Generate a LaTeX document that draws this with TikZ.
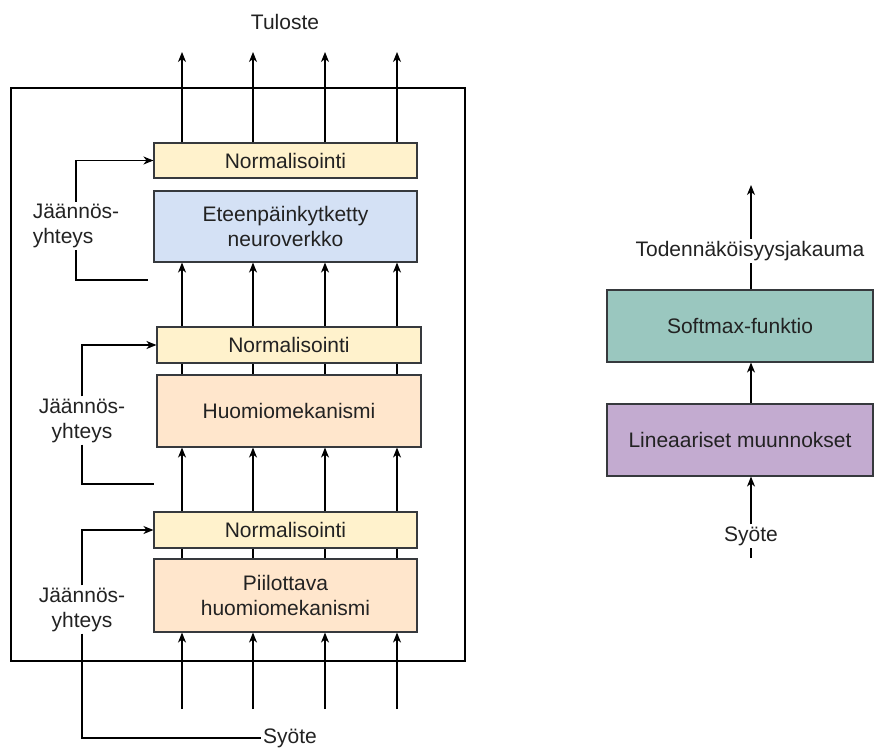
\documentclass[tikz,border=0pt]{standalone}
\usepackage{fontspec}
\setmainfont{Liberation Sans}
\usetikzlibrary{arrows.meta,backgrounds}
\definecolor{cyellow}{HTML}{FFF2CC}
\definecolor{cblue}{HTML}{D4E1F5}
\definecolor{corange}{HTML}{FFE6CC}
\definecolor{cteal}{HTML}{9AC7BF}
\definecolor{cpurple}{HTML}{C3ABD0}
\definecolor{cborder}{HTML}{36393D}
\definecolor{ctext}{HTML}{222222}
\tikzset{
  lbl/.style={font=\fontsize{21}{25}\selectfont, text=ctext, inner sep=2pt},
  box/.style={draw=cborder, line width=1.1pt, font=\fontsize{21}{25}\selectfont, text=ctext, align=center, inner sep=0pt},
  arr/.style={line width=1.1pt, -{Stealth[length=10pt,width=8pt,inset=3pt]}},
  ln/.style={line width=1.1pt},
}
\begin{document}
\begin{tikzpicture}[x=1pt,y=-1pt]
\useasboundingbox (0,0) rectangle (874,749);
% outer frame
\node[draw=black, line width=1.1pt, minimum width=454pt, minimum height=573pt, inner sep=0pt] (outer) at (238,374.5) {};
% left column boxes
\node[box, fill=cyellow, minimum width=263pt, minimum height=35pt] (n1) at (285.5,160.5) {Normalisointi};
\node[box, fill=cblue, minimum width=263pt, minimum height=71pt] (ffn) at (285.5,226.5) {Eteenpäinkytketty\\neuroverkko};
\node[box, fill=cyellow, minimum width=264pt, minimum height=36pt] (n2) at (289,345) {Normalisointi};
\node[box, fill=corange, minimum width=264pt, minimum height=72pt] (att) at (289,411) {Huomiomekanismi};
\node[box, fill=cyellow, minimum width=263pt, minimum height=36pt] (n3) at (285.5,530) {Normalisointi};
\node[box, fill=corange, minimum width=263pt, minimum height=73pt] (mask) at (285.5,595.5) {Piilottava\\huomiomekanismi};
% labels
\node[lbl] (tul) at (285,22) {Tuloste};
\node[lbl] (syo1) at (290,738) {Syöte};
\node[lbl, align=left] (j1) at (76,226) {Jäännös-\\yhteys};
\node[lbl, align=center] (j2) at (82,420.5) {Jäännös-\\yhteys};
\node[lbl, align=center] (j3) at (82,609.5) {Jäännös-\\yhteys};
% free-end coordinates
\foreach \i/\x in {1/182,2/253,3/325,4/397}{
  \coordinate (out\i) at (\x,52);
  \coordinate (in\i) at (\x,709);
}
\coordinate (r1end) at (148,280);
\coordinate (r2end) at (154,484);
% vertical arrows
\foreach \i/\x in {1/182,2/253,3/325,4/397}{
  \draw[arr] (n1.north -| out\i) -- (out\i);
  \draw[arr] (in\i) -- (mask.south -| in\i);
}
\begin{scope}[on background layer]
\foreach \i/\x in {1/182,2/253,3/325,4/397}{
  \draw[arr] (att.north -| out\i) -- (ffn.south -| out\i);
  \draw[arr] (mask.north -| out\i) -- (att.south -| out\i);
}
\end{scope}
% residual connections
\draw[arr] (j1.north) |- (n1.west);
\draw[ln] (j1.south) |- (r1end);
\draw[arr] (j2.north) |- (n2.west);
\draw[ln] (j2.south) |- (r2end);
\draw[arr] (j3.north) |- (n3.west);
\draw[ln] (j3.south) |- (syo1.west);
% right column
\node[box, fill=cteal, minimum width=266pt, minimum height=72pt] (soft) at (740,326) {Softmax-funktio};
\node[box, fill=cpurple, minimum width=266pt, minimum height=72pt] (lin) at (740,440) {Lineaariset muunnokset};
\node[lbl] (prob) at (750,251) {Todennäköisyysjakauma};
\node[lbl] (syo2) at (751,536) {Syöte};
\coordinate (rtop) at (751,185);
\coordinate (rbot) at (751,558);
\draw[arr] (prob.north -| rtop) -- (rtop);
\draw[ln] (soft.north -| rtop) -- (prob.south -| rtop);
\draw[arr] (lin.north -| rtop) -- (soft.south -| rtop);
\draw[arr] (syo2.north -| rtop) -- (lin.south -| rtop);
\draw[ln] (rbot) -- (syo2.south -| rtop);
\end{tikzpicture}
\end{document}
